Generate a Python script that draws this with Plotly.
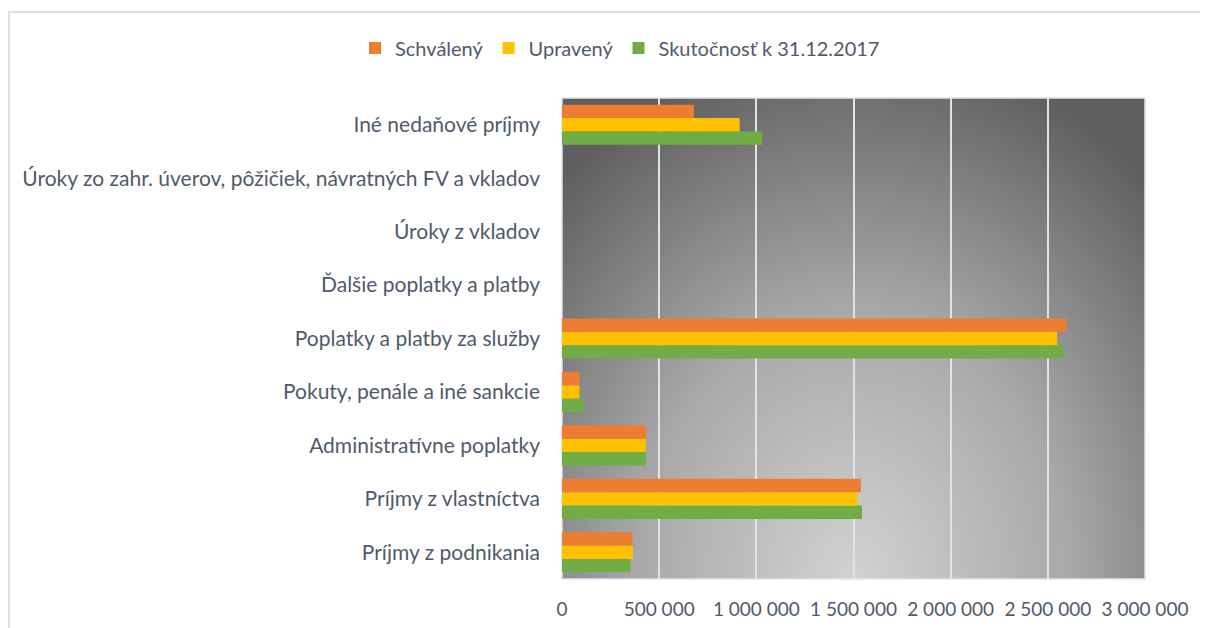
import base64
import plotly.graph_objects as go

# categories listed bottom -> top (plotly puts the first category at the bottom)
categories = [
    "Príjmy z podnikania",
    "Príjmy z vlastníctva",
    "Administratívne poplatky",
    "Pokuty, penále a iné sankcie",
    "Poplatky a platby za služby",
    "Ďalšie poplatky a platby",
    "Úroky z vkladov",
    "Úroky zo zahr. úverov, pôžičiek, návratných FV a vkladov",
    "Iné nedaňové príjmy",
]
schvaleny = [362000, 1538000, 432000, 90000, 2595000, 0, 0, 0, 679000]
upraveny = [365000, 1520000, 432000, 90000, 2548000, 0, 0, 0, 914000]
skutocnost = [351000, 1544000, 432000, 114000, 2580000, 0, 0, 0, 1031000]

series_names = ["Schválený", "Upravený", "Skutočnosť k 31.12.2017"]
series_colors = ["#ED7D31", "#FFC000", "#70AD47"]

x_ticks = [0, 500000, 1000000, 1500000, 2000000, 2500000, 3000000]

OFF = 8  # page body margin
W, H = 1200, 620
PL, PR, PT, PB = 562 - OFF, 1145 - OFF, 98 - OFF, 579 - OFF  # plot area in figure pixels
TEXT = "#4f5a6b"
FONT = "Lato, Calibri, Carlito, sans-serif"


def px(x):
    return (x - PL) / (PR - PL)


def py(y):
    return (PB - y) / (PB - PT)


# plot area background: light glow from the bottom centre, darker edges
svg = """<svg xmlns="http://www.w3.org/2000/svg" width="583" height="481" viewBox="0 0 583 481" preserveAspectRatio="none">
<defs><radialGradient id="g" gradientUnits="userSpaceOnUse" cx="291.5" cy="481" r="481"
gradientTransform="translate(291.5 481) scale(0.9 1.12) translate(-291.5 -481)">
<stop offset="0" stop-color="#d2d2d2"/><stop offset="0.5" stop-color="#a8a8a8"/>
<stop offset="1" stop-color="#5f5f5f"/></radialGradient></defs>
<rect width="583" height="481" fill="url(#g)"/></svg>"""
bg_src = "data:image/svg+xml;base64," + base64.b64encode(svg.encode()).decode()

fig = go.Figure()

# added bottom-up so the first series sits on top inside each group
for name, values, color in reversed(list(zip(series_names, [schvaleny, upraveny, skutocnost], series_colors))):
    fig.add_trace(go.Bar(
        y=categories,
        x=values,
        name=name,
        orientation="h",
        marker=dict(color=color, line=dict(width=0)),
    ))

fig.update_layout(
    width=W,
    height=H,
    margin=dict(l=PL, r=W - PR, t=PT, b=H - PB, autoexpand=False),
    paper_bgcolor="white",
    plot_bgcolor="rgba(0,0,0,0)",
    barmode="group",
    bargap=0.25,
    bargroupgap=0,
    separators=", ",
    font=dict(family=FONT, size=20, color=TEXT),
    legend=dict(
        orientation="h",
        traceorder="reversed",
        xref="container", yref="container",
        x=0.51, y=(H - 40) / H, xanchor="center", yanchor="middle",
        font=dict(size=20, color=TEXT),
        itemwidth=30,
    ),
    images=[dict(
        source=bg_src, xref="paper", yref="paper",
        x=0, y=1, sizex=1, sizey=1, sizing="stretch",
        xanchor="left", yanchor="top", layer="below",
    )],
    shapes=[
        # outer chart frame (top and left edges visible)
        dict(type="line", xref="paper", yref="paper", x0=px(4 - OFF), x1=px(W), y0=py(12 - OFF), y1=py(12 - OFF),
             line=dict(color="#dde2ea", width=2)),
        dict(type="line", xref="paper", yref="paper", x0=px(9 - OFF), x1=px(9 - OFF), y0=py(12 - OFF), y1=py(H),
             line=dict(color="#dde2ea", width=2)),
        # plot area border
        dict(type="rect", xref="paper", yref="paper", x0=0, x1=1, y0=0, y1=1,
             line=dict(color="#dfe3ea", width=1.5), layer="below"),
    ],
)

fig.update_xaxes(
    range=[0, 3000000],
    tickvals=x_ticks,
    tickformat=",.0f",
    showgrid=True,
    gridcolor="#dfe3ea",
    gridwidth=2,
    zeroline=False,
    showline=False,
    ticks="",
    ticklabelstandoff=17,
    tickfont=dict(size=19, color=TEXT),
    fixedrange=True,
)
fig.update_yaxes(
    categoryorder="array",
    categoryarray=categories,
    showgrid=False,
    zeroline=False,
    showline=False,
    ticks="",
    ticklabelstandoff=21,
    tickfont=dict(size=21, color=TEXT),
    fixedrange=True,
)

fig.write_html("out.html")
